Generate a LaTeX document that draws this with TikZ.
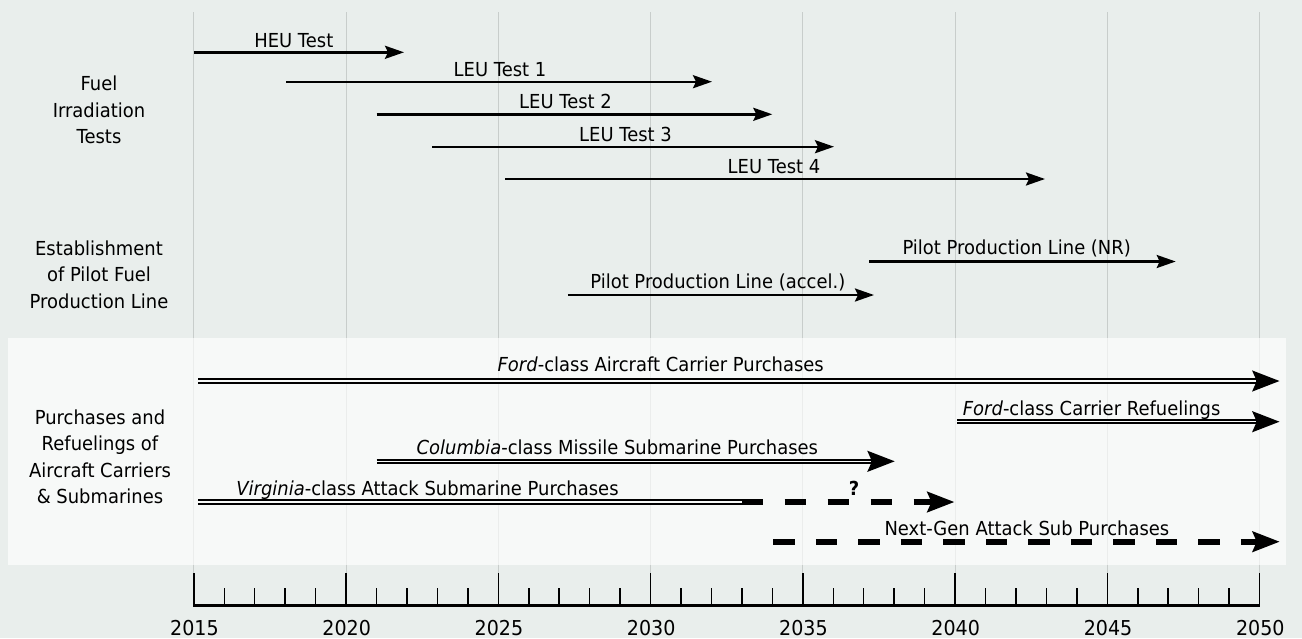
\documentclass[tikz,border=0pt]{standalone}
\usepackage{fontspec}
\setmainfont{DejaVu Sans}[FakeStretch=0.93]
\usetikzlibrary{arrows.meta}
\definecolor{bgc}{RGB}{233,238,236}
\definecolor{bandc}{RGB}{247,249,248}
\definecolor{gridc}{RGB}{200,205,203}
\begin{document}
\begin{tikzpicture}[x=1pt,y=-1pt,
  font=\fontsize{19.3}{26.5}\selectfont,
  lbl/.style={inner sep=0pt, anchor=base},
  grp/.style={inner sep=0pt, align=center, anchor=center},
  sgl/.style={line width=2.4pt, -{Stealth[length=19pt,width=13pt,inset=3pt]}},
  dbl/.style={line width=5.5pt, -{Stealth[length=27pt,width=20pt,inset=4pt]},
    postaction={draw=bandc, line width=1.5pt, -, shorten >=24pt}},
  dblplain/.style={line width=5.5pt, postaction={draw=bandc, line width=1.5pt}},
  dsh/.style={line width=6pt, dash pattern=on 21.5pt off 21.5pt, -{Stealth[length=27pt,width=20pt,inset=4pt]}},
  gridline/.style={draw=gridc, line width=1pt},
  tick/.style={line width=1.5pt}
]
\fill[bgc] (0,0) rectangle (1302,638);
\useasboundingbox (0,0) rectangle (1302,638);
% grid
\foreach \i in {0,...,7} {
  \draw[gridline] (193.8+152.25*\i,12) -- (193.8+152.25*\i,572.7);
}
% band
\fill[white, opacity=0.65] (8,337.5) rectangle (1286,564.7);
% axis
\coordinate (axL) at (193.3,605.5);
\coordinate (axR) at (1260.3,605.5);
\draw[line width=2.3pt] (axL) -- (axR);
\foreach \i in {0,...,35} {
  \draw[tick] (193.8+30.45*\i,605.5) -- (193.8+30.45*\i,588);
}
\foreach \i/\yr in {0/2015,1/2020,2/2025,3/2030,4/2035,5/2040,6/2045,7/2050} {
  \draw[tick] (193.8+152.25*\i,605.5) -- (193.8+152.25*\i,572.7);
  \node[lbl, font=\fontsize{20.5}{26.5}\selectfont] (y\yr) at (194.5+152.25*\i,635) {\yr};
}
% group labels
\node[grp] (gfuel) at (99,110) {Fuel\\Irradiation\\Tests};
\node[grp] (gpilot) at (99,274.5) {Establishment\\of Pilot Fuel\\Production Line};
\node[grp] (gpurch) at (100,457) {Purchases and\\Refuelings of\\Aircraft Carriers\\\& Submarines};
% fuel tests
\coordinate (heuS) at (193.8,52.3); \coordinate (heuE) at (404,52.3);
\draw[sgl] (heuS) -- (heuE);
\node[lbl] (heu) at (293.8,47) {HEU Test};
\coordinate (l1S) at (286,81.7); \coordinate (l1E) at (712,81.7);
\draw[sgl] (l1S) -- (l1E);
\node[lbl] (l1) at (500,76.7) {LEU Test 1};
\coordinate (l2S) at (376.7,114.3); \coordinate (l2E) at (772.3,114.3);
\draw[sgl] (l2S) -- (l2E);
\node[lbl] (l2) at (565.5,108.3) {LEU Test 2};
\coordinate (l3S) at (432.3,146.7); \coordinate (l3E) at (834,146.7);
\draw[sgl] (l3S) -- (l3E);
\node[lbl] (l3) at (625.5,141.7) {LEU Test 3};
\coordinate (l4S) at (505,179); \coordinate (l4E) at (1045,179);
\draw[sgl] (l4S) -- (l4E);
\node[lbl] (l4) at (774,173.3) {LEU Test 4};
% pilot line
\coordinate (nrS) at (869.2,261.5); \coordinate (nrE) at (1175.7,261.5);
\draw[sgl] (nrS) -- (nrE);
\node[lbl] (nr) at (1016.7,254.5) {Pilot Production Line (NR)};
\coordinate (acS) at (567.9,295); \coordinate (acE) at (874,295);
\draw[sgl] (acS) -- (acE);
\node[lbl] (ac) at (717.8,288.3) {Pilot Production Line (accel.)};
% purchases
\coordinate (fdS) at (198.3,381); \coordinate (fdE) at (1279.8,381);
\draw[dbl] (fdS) -- (fdE);
\node[lbl] (fd) at (660.7,371.7) {\textit{Ford}-class Aircraft Carrier Purchases};
\coordinate (rfS) at (957,421.7); \coordinate (rfE) at (1279.8,421.7);
\draw[dbl] (rfS) -- (rfE);
\node[lbl] (rf) at (1091.6,415) {\textit{Ford}-class Carrier Refuelings};
\coordinate (coS) at (376.7,461.3); \coordinate (coE) at (895,461.3);
\draw[dbl] (coS) -- (coE);
\node[lbl] (co) at (617.3,454.3) {\textit{Columbia}-class Missile Submarine Purchases};
\coordinate (viS) at (198.3,502); \coordinate (viM) at (741.7,502); \coordinate (viE) at (954.5,502);
\draw[dblplain] (viS) -- (viM);
\draw[dsh] (viM) -- (viE);
\node[lbl] (vi) at (427.5,495) {\textit{Virginia}-class Attack Submarine Purchases};
\node[lbl, font=\fontsize{19.3}{26.5}\selectfont\bfseries] (q) at (854,495.5) {?};
\coordinate (ngS) at (773.3,541.7); \coordinate (ngE) at (1279.8,541.7);
\draw[dsh, dash pattern=on 21.25pt off 21.25pt] (ngS) -- (ngE);
\node[lbl] (ng) at (1026.9,535) {Next-Gen Attack Sub Purchases};
\end{tikzpicture}
\end{document}
